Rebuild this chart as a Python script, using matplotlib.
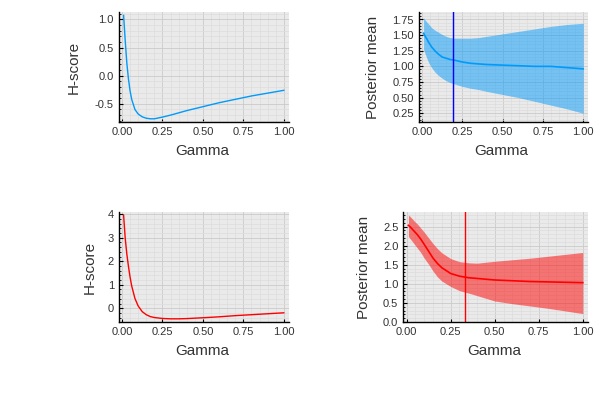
import matplotlib
matplotlib.use("Agg")
import matplotlib.pyplot as plt
from matplotlib.ticker import MultipleLocator, FormatStrFormatter

plt.rcParams["font.family"] = ["Liberation Sans", "DejaVu Sans"]

# values
gamma = [0.01, 0.02, 0.03, 0.04, 0.05, 0.06, 0.08, 0.10, 0.125, 0.15, 0.175,
         0.20, 0.25, 0.30, 0.35, 0.40, 0.50, 0.60, 0.70, 0.80, 0.90, 1.00]

hscore_blue = [1.07, 0.62, 0.22, -0.06, -0.27, -0.42, -0.60, -0.68, -0.73, -0.755,
               -0.765, -0.765, -0.735, -0.70, -0.66, -0.62, -0.55, -0.48, -0.42,
               -0.36, -0.31, -0.26]
mean_blue = [1.53, 1.48, 1.44, 1.39, 1.35, 1.31, 1.25, 1.20, 1.15, 1.13, 1.11,
             1.10, 1.07, 1.05, 1.04, 1.03, 1.02, 1.01, 1.00, 1.00, 0.98, 0.96]
upper_blue = [1.78, 1.74, 1.71, 1.68, 1.65, 1.62, 1.58, 1.55, 1.51, 1.48, 1.46,
              1.45, 1.45, 1.45, 1.46, 1.48, 1.52, 1.56, 1.60, 1.64, 1.67, 1.69]
lower_blue = [1.27, 1.20, 1.13, 1.07, 1.02, 0.98, 0.91, 0.86, 0.81, 0.77, 0.74,
              0.72, 0.68, 0.65, 0.63, 0.60, 0.55, 0.50, 0.44, 0.38, 0.32, 0.25]
best_blue = 0.19

hscore_red = [3.95, 2.97, 2.30, 1.78, 1.32, 0.95, 0.42, 0.10, -0.14, -0.27, -0.35,
              -0.39, -0.43, -0.445, -0.445, -0.435, -0.40, -0.36, -0.31, -0.27,
              -0.23, -0.19]
mean_red = [2.53, 2.49, 2.44, 2.39, 2.34, 2.29, 2.17, 2.03, 1.85, 1.67, 1.53,
            1.42, 1.27, 1.20, 1.16, 1.14, 1.10, 1.08, 1.06, 1.05, 1.04, 1.03]
upper_red = [2.80, 2.76, 2.71, 2.66, 2.61, 2.57, 2.46, 2.35, 2.20, 2.05, 1.92,
             1.81, 1.66, 1.58, 1.55, 1.54, 1.59, 1.63, 1.67, 1.72, 1.77, 1.82]
lower_red = [2.24, 2.18, 2.12, 2.06, 2.00, 1.94, 1.82, 1.67, 1.51, 1.33, 1.18,
             1.07, 0.93, 0.82, 0.76, 0.69, 0.55, 0.48, 0.42, 0.36, 0.29, 0.22]
best_red = 0.33

BLUE = "#009AFA"
RED = "#FF0000"


def style(ax, ymajor, yfmt, ylim):
    ax.set_facecolor("#EAEAEA")
    ax.set_xlim(-0.0197, 1.0297)
    ax.set_ylim(*ylim)
    ax.xaxis.set_major_locator(MultipleLocator(0.25))
    ax.xaxis.set_minor_locator(MultipleLocator(0.05))
    ax.xaxis.set_major_formatter(FormatStrFormatter("%.2f"))
    ax.yaxis.set_major_locator(MultipleLocator(ymajor))
    ax.yaxis.set_minor_locator(MultipleLocator(ymajor / 5))
    ax.yaxis.set_major_formatter(FormatStrFormatter(yfmt))
    ax.grid(which="major", color="#CACACA", lw=0.6)
    ax.grid(which="minor", color="#DCDCDC", lw=0.5)
    ax.set_axisbelow(True)
    for s in ("top", "right"):
        ax.spines[s].set_visible(False)
    for s in ("left", "bottom"):
        ax.spines[s].set_color("black")
        ax.spines[s].set_linewidth(1.0)
    ax.tick_params(which="both", direction="in", labelsize=8, labelcolor="#333333")
    ax.tick_params(axis="y", which="major", length=3)
    ax.tick_params(axis="y", which="minor", length=1.5)
    ax.tick_params(axis="x", which="major", length=2)
    ax.tick_params(axis="x", which="minor", length=0)
    ax.set_xlabel("Gamma", fontsize=11, color="#333333")


fig = plt.figure(figsize=(6, 4), dpi=100)
ax1 = fig.add_axes([0.198, 0.695, 0.283, 0.275])
ax2 = fig.add_axes([0.698, 0.695, 0.282, 0.275])
ax3 = fig.add_axes([0.198, 0.195, 0.283, 0.275])
ax4 = fig.add_axes([0.672, 0.195, 0.308, 0.275])

# top left: H-score, blue
ax1.plot(gamma, hscore_blue, color=BLUE, lw=1.0)
style(ax1, 0.5, "%.1f", (-0.822, 1.13))
ax1.set_ylabel("H-score", fontsize=11, color="#333333")
ax1.yaxis.set_label_coords(-0.225, 0.5)

# top right: posterior mean, blue
ax2.fill_between(gamma, lower_blue, upper_blue, color=BLUE, alpha=0.5, lw=0)
ax2.plot(gamma, mean_blue, color=BLUE, lw=1.2)
ax2.axvline(best_blue, color="#0000FF", lw=1.0)
style(ax2, 0.25, "%.2f", (0.11, 1.87))
ax2.set_ylabel("Posterior mean", fontsize=11, color="#333333")
ax2.yaxis.set_label_coords(-0.227, 0.5)

# bottom left: H-score, red
ax3.plot(gamma, hscore_red, color=RED, lw=1.0)
style(ax3, 1.0, "%d", (-0.58, 4.09))
ax3.set_ylabel("H-score", fontsize=11, color="#333333")
ax3.yaxis.set_label_coords(-0.128, 0.5)

# bottom right: posterior mean, red
ax4.fill_between(gamma, lower_red, upper_red, color=RED, alpha=0.5, lw=0)
ax4.plot(gamma, mean_red, color=RED, lw=1.2)
ax4.axvline(best_red, color=RED, lw=1.0)
style(ax4, 0.5, "%.1f", (0.0, 2.88))
ax4.set_ylabel("Posterior mean", fontsize=11, color="#333333")
ax4.yaxis.set_label_coords(-0.175, 0.5)

for ax in (ax1, ax2, ax3, ax4):
    ax.xaxis.set_label_coords(0.49, -0.2)

fig.savefig("out.png", dpi=100)
